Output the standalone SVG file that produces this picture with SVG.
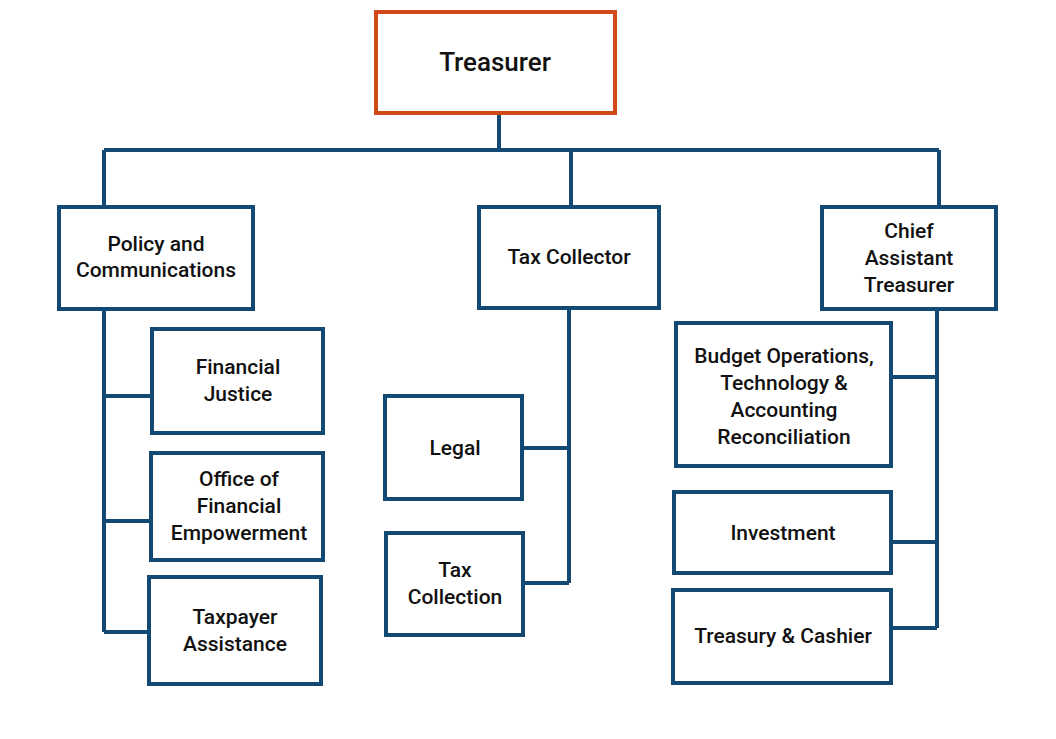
<svg xmlns="http://www.w3.org/2000/svg" width="1056" height="739" viewBox="0 0 1056 739">
<style>
.b{fill:#fff;stroke:#124a74;stroke-width:4}
.t{font-family:Roboto,"Liberation Sans",sans-serif;font-weight:500;font-size:21px;fill:#111;text-anchor:middle}
.c{fill:none;stroke:#124a74;stroke-width:4}
</style>
<rect width="1056" height="739" fill="#fff"/>
<g id="connectors" class="c">
<path d="M499 113V150M104 150H939M104 150V207M571 150V207M939 150V207"/>
<path d="M104 309V632M104 396H152M104 521H151M104 632H149"/>
<path d="M569 308V583M522 448H569M523 583H569"/>
<path d="M937 309V628M891 377H937M891 542H937M891 628H937"/>
</g>
<g id="treasurer"><rect x="376" y="12" width="239" height="101" fill="#fff" stroke="#d04a1a" stroke-width="4"/><text class="t" x="495" y="71" style="font-size:26px">Treasurer</text></g>
<g id="policy"><rect class="b" x="59" y="207" width="194" height="102"/><text class="t" x="156" y="251">Policy and</text><text class="t" x="156" y="277">Communications</text></g>
<g id="taxcollector"><rect class="b" x="479" y="207" width="180" height="101"/><text class="t" x="569" y="264">Tax Collector</text></g>
<g id="chief"><rect class="b" x="822" y="207" width="174" height="102"/><text class="t" x="909" y="238">Chief</text><text class="t" x="909" y="265">Assistant</text><text class="t" x="909" y="292">Treasurer</text></g>
<g id="financialjustice"><rect class="b" x="152" y="329" width="171" height="104"/><text class="t" x="238" y="374">Financial</text><text class="t" x="238" y="401">Justice</text></g>
<g id="office"><rect class="b" x="151" y="453" width="172" height="107"/><text class="t" x="239" y="486">Office of</text><text class="t" x="239" y="513">Financial</text><text class="t" x="239" y="540">Empowerment</text></g>
<g id="taxpayer"><rect class="b" x="149" y="577" width="172" height="107"/><text class="t" x="235" y="624">Taxpayer</text><text class="t" x="235" y="651">Assistance</text></g>
<g id="legal"><rect class="b" x="385" y="396" width="137" height="103"/><text class="t" x="455" y="455">Legal</text></g>
<g id="taxcollection"><rect class="b" x="386" y="533" width="137" height="102"/><text class="t" x="455" y="577">Tax</text><text class="t" x="455" y="604">Collection</text></g>
<g id="budget"><rect class="b" x="676" y="323" width="215" height="143"/><text class="t" x="784" y="363">Budget Operations,</text><text class="t" x="784" y="390">Technology &amp;</text><text class="t" x="784" y="417">Accounting</text><text class="t" x="784" y="444">Reconciliation</text></g>
<g id="investment"><rect class="b" x="674" y="492" width="217" height="81"/><text class="t" x="783" y="540">Investment</text></g>
<g id="treasury"><rect class="b" x="673" y="590" width="218" height="93"/><text class="t" x="783" y="643">Treasury &amp; Cashier</text></g>
</svg>
